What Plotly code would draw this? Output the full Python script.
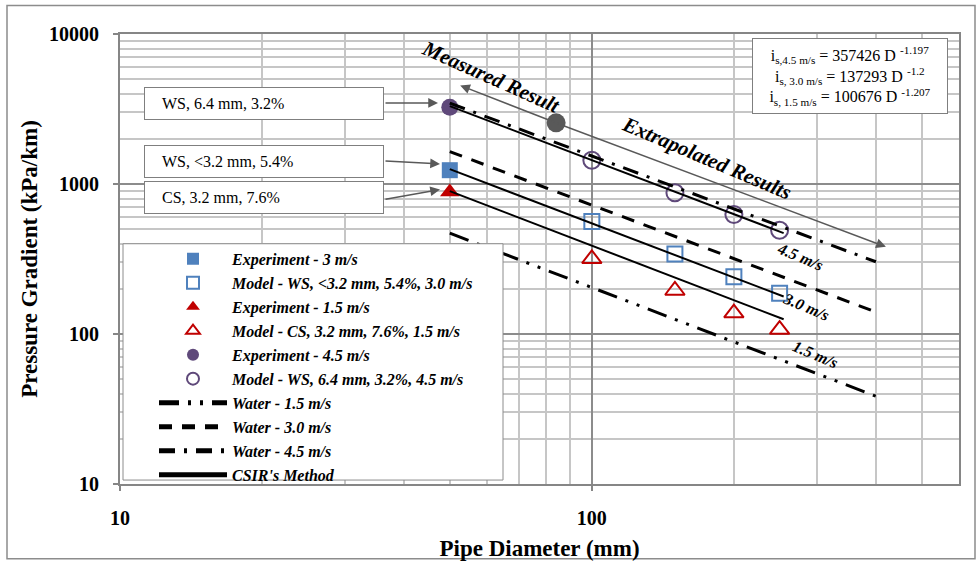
import math
import plotly.graph_objects as go

# ---- data -------------------------------------------------------------
# pipe diameters (mm)
exp_d = [50]
model_d = [100, 150, 200, 250]
water_d = [50, 400]
csir_d = [50, 255]

# measured pressure gradients at the 50 mm test pipe (kPa/km)
exp_30 = [1236]
exp_15 = [885]
exp_45 = [3250]

# model predictions (kPa/km)
model_30 = [562, 342, 241, 187]
model_15 = [317, 195, 138, 107]
model_45 = [1440, 874, 627, 492]

# clear-water gradients (kPa/km)
water_15 = [470, 38.5]
water_30 = [1645, 140]
water_45 = [3460, 303]

# CSIR power-law fits  i_s = a * D^b
csir_speed = ["4.5", "3.0", "1.5"]
csir_a = [357426, 137293, 100676]
csir_b = [-1.197, -1.2, -1.207]

# point separating measured from extrapolated results
split_d = [84]
split_i = [2556]

x_ticks = [10, 100]
y_ticks = [10, 100, 1000, 10000]

# ---- styling ----------------------------------------------------------
SERIF = "Liberation Serif"
BLUE = "#4F81BD"
RED = "#C00000"
PURPLE = "#5F497A"
GREY = "#595959"

L, T, W, H = 120, 34, 839, 457
FIG_W, FIG_H = 977, 569


def fx(px):
    return (px - L) / W


def fy(py):
    return (T + H - py) / H


lg = math.log10

fig = go.Figure()

fig.add_trace(go.Scatter(
    x=exp_d, y=exp_30, mode="markers", name="Experiment - 3 m/s",
    marker=dict(symbol="square", size=16, color=BLUE)))
fig.add_trace(go.Scatter(
    x=model_d, y=model_30, mode="markers", name="Model - WS, <3.2 mm, 5.4%, 3.0 m/s",
    marker=dict(symbol="square-open", size=15, color=BLUE, line=dict(width=2, color=BLUE))))
fig.add_trace(go.Scatter(
    x=exp_d, y=exp_15, mode="markers", name="Experiment - 1.5 m/s",
    marker=dict(symbol="triangle-up", size=17, color=RED)))
fig.add_trace(go.Scatter(
    x=model_d, y=model_15, mode="markers", name="Model - CS, 3.2 mm, 7.6%, 1.5 m/s",
    marker=dict(symbol="triangle-up-open", size=17, color=RED, line=dict(width=2, color=RED))))
fig.add_trace(go.Scatter(
    x=exp_d, y=exp_45, mode="markers", name="Experiment - 4.5 m/s",
    marker=dict(symbol="circle", size=17, color=PURPLE)))
fig.add_trace(go.Scatter(
    x=model_d, y=model_45, mode="markers", name="Model - WS, 6.4 mm, 3.2%, 4.5 m/s",
    marker=dict(symbol="circle-open", size=17, color=PURPLE, line=dict(width=2, color=PURPLE))))

fig.add_trace(go.Scatter(
    x=water_d, y=water_15, mode="lines", name="Water - 1.5 m/s",
    line=dict(color="black", width=3, dash="20px,9px,3px,9px,3px,9px")))
fig.add_trace(go.Scatter(
    x=water_d, y=water_30, mode="lines", name="Water - 3.0 m/s",
    line=dict(color="black", width=3, dash="13px,10px")))
fig.add_trace(go.Scatter(
    x=water_d, y=water_45, mode="lines", name="Water - 4.5 m/s",
    line=dict(color="black", width=3, dash="16px,9px,3px,9px")))

# CSIR lines from the fitted equations, one segment per velocity
cx, cy = [], []
for a, b in zip(csir_a, csir_b):
    cx += csir_d + [None]
    cy += [a * d ** b for d in csir_d] + [None]
fig.add_trace(go.Scatter(
    x=cx, y=cy, mode="lines", name="CSIR's Method",
    line=dict(color="black", width=2)))

fig.add_trace(go.Scatter(
    x=split_d, y=split_i, mode="markers", showlegend=False,
    marker=dict(symbol="circle", size=19, color=GREY)))

# one group per trace so the legend rows get a little extra spacing
for i, tr in enumerate(fig.data):
    tr.legendgroup = f"g{i}"

# ---- annotations ------------------------------------------------------
ann = []
label_font = dict(family=SERIF, size=16, color="black")
NB = "\u00a0" * 4
for text, cyp in [("WS, 6.4 mm, 3.2%", 105), ("WS, <3.2 mm, 5.4%", 163.5), ("CS, 3.2 mm, 7.6%", 200.5)]:
    ann.append(dict(xref="paper", yref="paper", x=fx(264), y=fy(cyp),
                    xanchor="center", yanchor="middle", text=NB + text,
                    showarrow=False, width=236, height=29, align="left",
                    bgcolor="white", bordercolor="#7f7f7f", borderwidth=1, borderpad=1,
                    font=label_font))
for (hx, hy), (tx, ty) in [((438, 104), (384, 104)), ((440, 166), (384, 163)), ((440, 192), (384, 202))]:
    ann.append(dict(xref="paper", yref="paper", x=fx(hx), y=fy(hy), ax=tx - hx, ay=ty - hy,
                    text="", showarrow=True, arrowhead=2, arrowsize=1.3, arrowwidth=1.5,
                    arrowcolor=GREY))

eq_text = ("i<sub>s,4.5 m/s</sub> = 357426 D <sup>-1.197</sup><br>"
           "i<sub>s, 3.0 m/s</sub> = 137293 D <sup>-1.2</sup><br>"
           "i<sub>s, 1.5 m/s</sub> = 100676 D <sup>-1.207</sup>")
ann.append(dict(xref="paper", yref="paper", x=fx(850), y=fy(77),
                xanchor="center", yanchor="middle", text=eq_text,
                showarrow=False, width=192, height=72, align="center",
                bgcolor="white", bordercolor="#7f7f7f", borderwidth=1, borderpad=1,
                font=dict(family=SERIF, size=16, color="black")))

bi_font = dict(family=SERIF, size=21, color="black", weight="bold", style="italic")
ann.append(dict(x=lg(61.2), y=lg(5200), text="Measured Result", showarrow=False,
                textangle=24, font=bi_font))
ann.append(dict(x=lg(175), y=lg(1483), text="Extrapolated Results", showarrow=False,
                textangle=23, font=bi_font))

sp_font = dict(family=SERIF, size=16, color="black", weight="bold", style="italic")
for txt, dx, iy in [("4.5 m/s", 276, 327), ("3.0 m/s", 284, 151.5), ("1.5 m/s", 298, 73.4)]:
    ann.append(dict(x=lg(dx), y=lg(iy), text=txt, showarrow=False, textangle=23, font=sp_font))

for hd, hi in [(52.6, 4540), (420, 381)]:
    ann.append(dict(x=lg(hd), y=lg(hi), ax=lg(split_d[0]), ay=lg(split_i[0]),
                    axref="x", ayref="y", text="", showarrow=True, arrowhead=2,
                    arrowsize=1.3, arrowwidth=1.5, arrowcolor=GREY))

shapes = [
    # chart frame
    dict(type="rect", xref="paper", yref="paper", x0=fx(7), y0=fy(5), x1=fx(975), y1=fy(567),
         line=dict(color="#8c8c8c", width=1.5), fillcolor="rgba(0,0,0,0)", layer="below"),
    # legend backing box
    dict(type="rect", xref="paper", yref="paper", x0=fx(123), y0=fy(247), x1=fx(503), y1=fy(487),
         line=dict(color="#8c8c8c", width=1), fillcolor="white", layer="above"),
]

tick_font = dict(family=SERIF, size=20, color="black", weight="bold")
title_font = dict(family=SERIF, size=23, color="black", weight="bold")
axis_common = dict(
    type="log", showline=True, linecolor="#868686", linewidth=2, mirror=True,
    ticks="outside", ticklen=5, tickcolor="#868686", tickwidth=1.5,
    showgrid=True, gridcolor="#8c8c8c", gridwidth=1.5,
    tickfont=tick_font, zeroline=False,
    minor=dict(dtick="D1", showgrid=True, gridcolor="#c6c6c6", gridwidth=1.5, ticks=""),
)

fig.update_layout(
    width=FIG_W, height=FIG_H,
    margin=dict(l=L, r=FIG_W - L - W, t=T, b=FIG_H - T - H),
    paper_bgcolor="white", plot_bgcolor="white",
    font=dict(family=SERIF, color="black"),
    xaxis=dict(axis_common, range=[1, lg(600)], tickmode="array", tickvals=x_ticks,
               ticktext=[str(v) for v in x_ticks], ticklabelstandoff=10,
               title=dict(text="Pipe Diameter (mm)", font=title_font, standoff=12)),
    yaxis=dict(axis_common, range=[1, 4], tickmode="array", tickvals=y_ticks,
               ticktext=[str(v) for v in y_ticks], ticklabelstandoff=10,
               title=dict(text="Pressure Gradient (kPa/km)", font=title_font, standoff=5)),
    legend=dict(x=fx(154), y=fy(245), xanchor="left", yanchor="top",
                bgcolor="rgba(0,0,0,0)", borderwidth=0, itemwidth=68,
                tracegroupgap=0.2, itemsizing="constant",
                font=dict(family=SERIF, size=16, color="black", weight="bold", style="italic")),
    annotations=ann,
    shapes=shapes,
)

fig.write_html("out.html")
